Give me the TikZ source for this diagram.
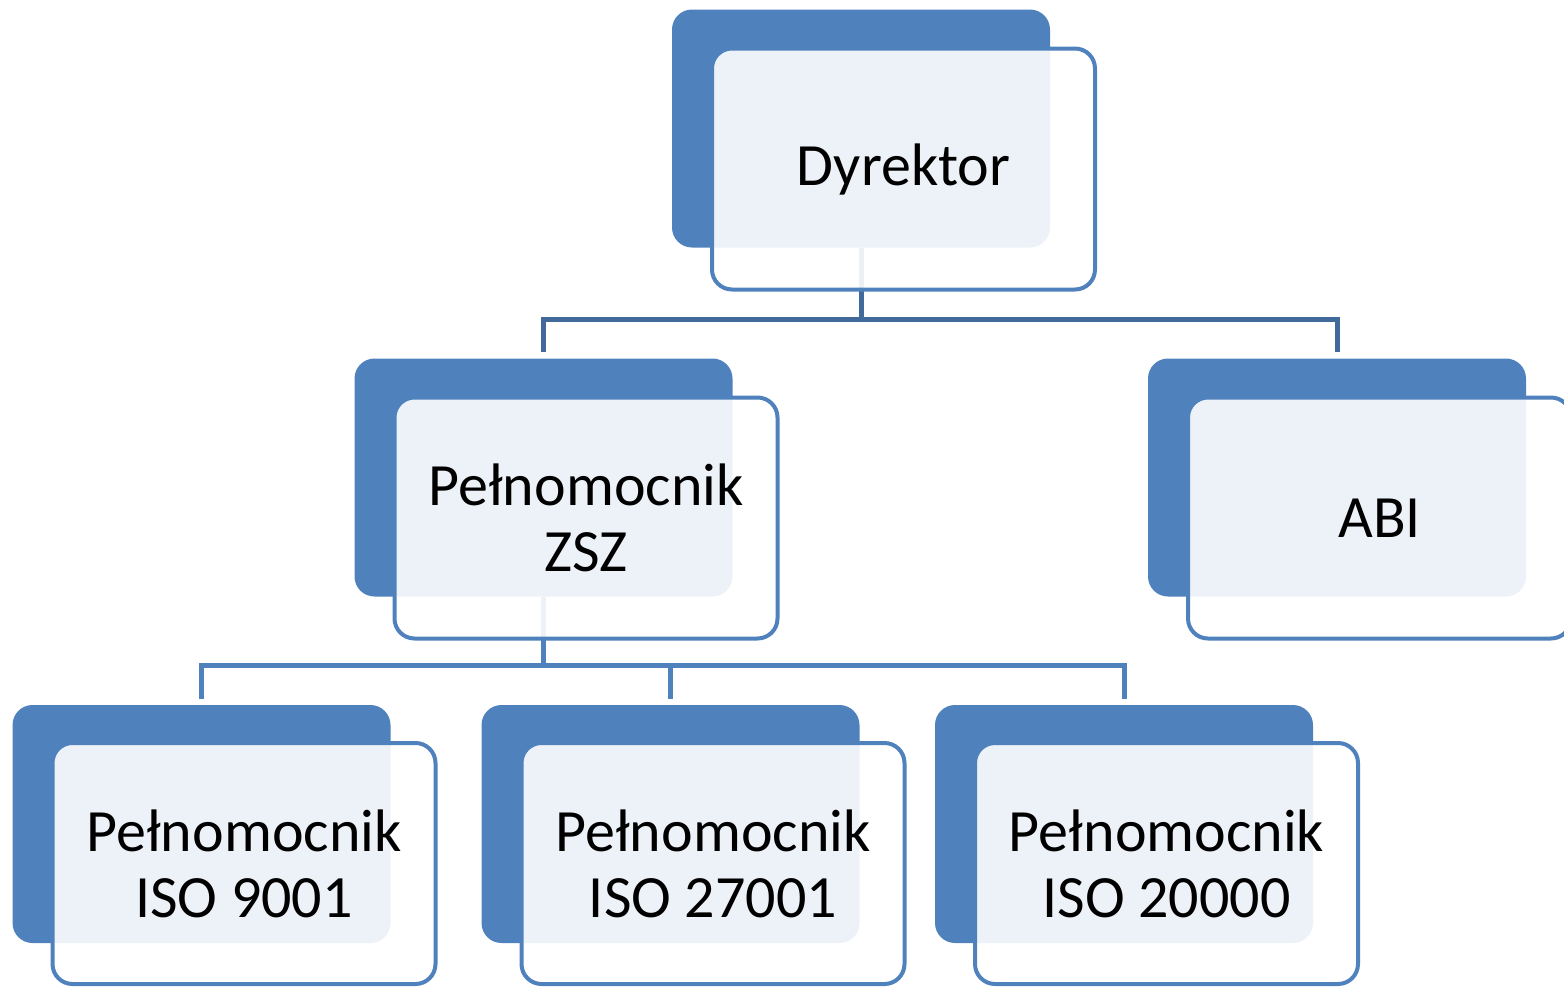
\documentclass[tikz,border=0pt]{standalone}
\usepackage{fontspec}
\setmainfont{Carlito}
\definecolor{boxblue}{HTML}{4F81BD}
\definecolor{linkblue}{HTML}{41699A}

\begin{document}
\begin{tikzpicture}[x=0.5pt,y=-0.5pt,
       back/.style={fill=boxblue,rounded corners=10pt,inner sep=0pt,
         minimum width=189pt,minimum height=119pt},
       front/.style={draw=boxblue,line width=2pt,fill=white,fill opacity=0.9,
         text opacity=1,rounded corners=10pt,inner sep=0pt,align=center,
         minimum width=191.5pt,minimum height=120.5pt,
         font=\fontsize{30}{33}\selectfont},
       link/.style={draw=linkblue,line width=2.5pt}]
    \useasboundingbox (0,0) rectangle (1564,986);
    % back boxes
    \node[back] (dDyr) at (861,128.5) {};
    \node[back] (dZsz) at (543.5,477.5) {};
    \node[back] (dAbi) at (1337,477.5) {};
    \node[back] (dIsoA) at (201.5,824) {};
    \node[back] (dIsoB) at (670.5,824) {};
    \node[back] (dIsoC) at (1124,824) {};
    % connectors
    \draw[link,shorten >=3pt] (dDyr.south) -- ++(0,72) -| (dZsz.north);
    \draw[link,shorten >=3pt] (dDyr.south) -- ++(0,72) -| (dAbi.north);
    \draw[link,draw=boxblue,shorten >=3pt] (dZsz.south) -- ++(0,69) -| (dIsoA.north);
    \draw[link,draw=boxblue,shorten >=3pt] (dZsz.south) -- ++(0,69) -| (dIsoB.north);
    \draw[link,draw=boxblue,shorten >=3pt] (dZsz.south) -- ++(0,69) -| (dIsoC.north);
    % front boxes
    \node[front] (Dyr) at ([shift={(42.5,40.5)}]dDyr.center) {Dyrektor};
    \node[front] (Zsz) at ([shift={(42.5,40.5)}]dZsz.center) {Pełnomocnik\\ZSZ};
    \node[front] (Abi) at ([shift={(42.5,40.5)}]dAbi.center) {ABI};
    \node[front] (IsoA) at ([shift={(42.5,39.5)}]dIsoA.center) {Pełnomocnik\\ISO 9001};
    \node[front] (IsoB) at ([shift={(42.5,39.5)}]dIsoB.center) {Pełnomocnik\\ISO 27001};
    \node[front] (IsoC) at ([shift={(42.5,39.5)}]dIsoC.center) {Pełnomocnik\\ISO 20000};
\end{tikzpicture}
\end{document}
